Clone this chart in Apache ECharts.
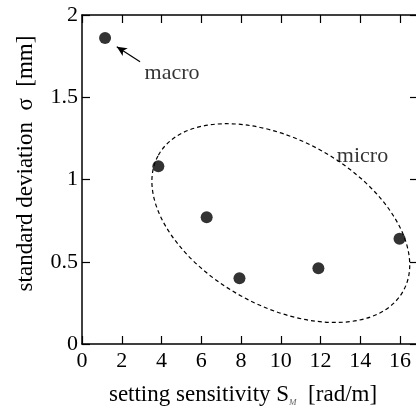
<!DOCTYPE html>
<html><head><meta charset="utf-8">
<script src="https://cdn.jsdelivr.net/npm/echarts@6/dist/echarts.min.js"></script>
<style>html,body{margin:0;padding:0;background:#fff;overflow:hidden}#c{width:416px;height:408px}</style>
</head><body><div id="c"></div>
<script>
// data
const xValues = [1.16, 3.84, 6.27, 7.92, 11.89, 15.97];
const yValues = [1.86, 1.08, 0.77, 0.40, 0.46, 0.64];
const xTickStep = 2;
const yTickStep = 0.5;
const annotationNames = ['macro', 'micro'];
const annotationX = [4.53, 14.11];
const annotationY = [1.645, 1.14];
const arrowFrom = [1.75, 1.807];
const arrowTo = [2.92, 1.716];
const ellipseCenter = [10.0, 0.735];

const FONT = 'Liberation Serif';
const chart = echarts.init(document.getElementById('c'), null, {renderer: 'canvas'});

const axisCommon = {
  axisLine: {show: true, onZero: false, lineStyle: {color: '#000', width: 1.5}},
  axisTick: {show: true, inside: true, length: 8, lineStyle: {color: '#000', width: 1.2}},
  splitLine: {show: false}
};

const option = {
  backgroundColor: '#fff',
  animation: false,
  grid: {left: 82, top: 15, width: 336, height: 329, containLabel: false, outerBoundsMode: 'none'},
  xAxis: [
    Object.assign({}, axisCommon, {
      type: 'value', min: 0, max: 16.9, interval: xTickStep, position: 'bottom',
      axisLabel: {show: true, margin: 6, showMaxLabel: false, color: '#000', fontFamily: FONT, fontSize: 22},
      name: 'setting sensitivity S{sub|M}  [rad/m]',
      nameLocation: 'middle', nameGap: 38,
      nameTextStyle: {color: '#000', fontFamily: FONT, fontSize: 23, padding: [0, 14, 0, 0],
        rich: {sub: {fontFamily: FONT, fontSize: 9, fontStyle: 'italic', verticalAlign: 'bottom', padding: [16, 0, 0, 0], color: '#666'}}}
    }),
    Object.assign({}, axisCommon, {
      type: 'value', min: 0, max: 16.9, interval: xTickStep, position: 'top',
      axisLabel: {show: false}
    })
  ],
  yAxis: [
    Object.assign({}, axisCommon, {
      type: 'value', min: 0, max: 2, interval: yTickStep, position: 'left',
      axisLabel: {show: true, margin: 4, color: '#000', fontFamily: FONT, fontSize: 22},
      name: 'standard deviation  σ  [mm]',
      nameLocation: 'middle', nameGap: 45,
      nameTextStyle: {color: '#000', fontFamily: FONT, fontSize: 23, padding: [0, 0, 0, 32]}
    }),
    Object.assign({}, axisCommon, {
      type: 'value', min: 0, max: 2, interval: yTickStep, position: 'right',
      axisLabel: {show: false}
    })
  ],
  series: [
    {
      type: 'scatter',
      data: xValues.map((x, i) => [x, yValues[i]]),
      symbol: 'circle', symbolSize: 12,
      itemStyle: {color: '#000'},
      markLine: {
        silent: true,
        symbol: ['arrow', 'none'],
        symbolSize: [7, 10],
        label: {show: false},
        lineStyle: {color: '#000', width: 1.2, type: 'solid'},
        data: [[{coord: arrowFrom}, {coord: arrowTo}]]
      }
    },
    {
      type: 'scatter',
      data: annotationNames.map((n, i) => ({name: n, value: [annotationX[i], annotationY[i]]})),
      symbolSize: 0,
      silent: true,
      label: {show: true, position: 'inside', formatter: '{b}', color: '#000', fontFamily: FONT, fontSize: 22}
    }
  ]
};
chart.setOption(option);

const c = chart.convertToPixel({xAxisIndex: 0, yAxisIndex: 0}, ellipseCenter);
chart.setOption({
  graphic: [{
    type: 'ellipse',
    x: c[0], y: c[1],
    rotation: -29 * Math.PI / 180,
    shape: {cx: 0, cy: 0, rx: 140, ry: 83},
    style: {fill: 'none', stroke: '#000', lineWidth: 1.2, lineDash: [4, 3]},
    silent: true,
    z: 1
  }]
});
</script>
</body></html>
